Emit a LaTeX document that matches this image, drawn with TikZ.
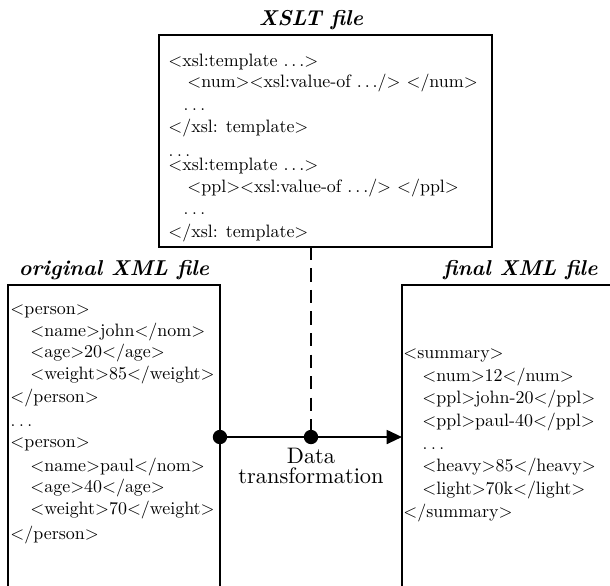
\documentclass[tikz,border=0pt]{standalone}
\usepackage{graphicx}
\usetikzlibrary{arrows.meta}
\newcommand\xlt{$<$}
\newcommand\xgt{$>$}
\newcommand\xell{$\ldots$}
\newcommand\xdots{{\scriptsize$\ldots$}}
\newcommand\cl[1]{\scalebox{0.8}{#1}}
\begin{document}
\begin{tikzpicture}[x=0.4464pt,y=-0.4464pt,
  box/.style={draw,line width=0.9pt,rectangle,inner sep=0,outer sep=0},
  codeline/.style={anchor=base west,font=\normalsize,inner sep=0},
  title/.style={font=\fontsize{9.6}{11.5}\selectfont\bfseries\itshape,inner sep=0},
  flow/.style={line width=0.9pt},
  dot/.style={circle,fill,inner sep=0,minimum size=6.4pt},
  >={Triangle[length=6.8pt,width=6.2pt]}]
\clip (0,0) rectangle (610,585);
% boxes
\node[box,minimum width=148.7pt,minimum height=94.6pt] (xslt) at (325.5,141) {};
\node[box,minimum width=94.6pt,minimum height=158.5pt] (orig) at (114,462.5) {};
\node[box,minimum width=115.2pt,minimum height=158.5pt] (final) at (531,462.5) {};
% titles
\node[title,anchor=base] (txslt) at (311,25) {XSLT file};
\node[title,anchor=base] (torig) at (114,275) {original XML file};
\node[title,anchor=base east] (tfinal) at (598,275) {final XML file};
% XSLT content
\node[codeline] (x1) at (168,66) {\cl{\xlt xsl:template \xell\xgt}};
\node[codeline] (x2) at (187,87) {\cl{\xlt num\xgt\xlt xsl:value-of \xell/\xgt\ \xlt/num\xgt}};
\node[codeline] (x3) at (183,110) {\xdots};
\node[codeline] (x4) at (168,132) {\cl{\xlt/xsl: template\xgt}};
\node[codeline] (x5) at (168,156) {\xdots};
\node[codeline] (x6) at (168,170) {\cl{\xlt xsl:template \xell\xgt}};
\node[codeline] (x7) at (187,192) {\cl{\xlt ppl\xgt\xlt xsl:value-of \xell/\xgt\ \xlt/ppl\xgt}};
\node[codeline] (x8) at (183,214) {\xdots};
\node[codeline] (x9) at (168,237) {\cl{\xlt/xsl: template\xgt}};
% original content
\node[codeline] (o1) at (10,314) {\cl{\xlt person\xgt}};
\node[codeline] (o2) at (30,336) {\cl{\xlt name\xgt john\xlt/nom\xgt}};
\node[codeline] (o3) at (30,357) {\cl{\xlt age\xgt 20\xlt/age\xgt}};
\node[codeline] (o4) at (30,379) {\cl{\xlt weight\xgt 85\xlt/weight\xgt}};
\node[codeline] (o5) at (10,402) {\cl{\xlt/person\xgt}};
\node[codeline] (o6) at (10,426) {\xdots};
\node[codeline] (o7) at (10,447) {\cl{\xlt person\xgt}};
\node[codeline] (o8) at (30,471) {\cl{\xlt name\xgt paul\xlt/nom\xgt}};
\node[codeline] (o9) at (30,492) {\cl{\xlt age\xgt 40\xlt/age\xgt}};
\node[codeline] (o10) at (30,514) {\cl{\xlt weight\xgt 70\xlt/weight\xgt}};
\node[codeline] (o11) at (10,539) {\cl{\xlt/person\xgt}};
% final content
\node[codeline] (f1) at (403,358) {\cl{\xlt summary\xgt}};
\node[codeline] (f2) at (422,381) {\cl{\xlt num\xgt 12\xlt/num\xgt}};
\node[codeline] (f3) at (422,403) {\cl{\xlt ppl\xgt john-20\xlt/ppl\xgt}};
\node[codeline] (f4) at (422,426) {\cl{\xlt ppl\xgt paul-40\xlt/ppl\xgt}};
\node[codeline] (f5) at (422,449) {\xdots};
\node[codeline] (f6) at (422,471) {\cl{\xlt heavy\xgt 85\xlt/heavy\xgt}};
\node[codeline] (f7) at (422,494) {\cl{\xlt light\xgt 70k\xlt/light\xgt}};
\node[codeline] (f8) at (403,517) {\cl{\xlt/summary\xgt}};
% connectors
\coordinate (mid) at (311,437);
\draw[flow,->] (orig.east |- mid) -- (final.west |- mid);
\draw[flow,dash pattern=on 6pt off 3.6pt] (xslt.south -| mid) -- (mid);
\node[dot] (d1) at (orig.east |- mid) {};
\node[dot] (d2) at (mid) {};
\node[anchor=base,inner sep=0] (dt1) at (311,463) {Data};
\node[anchor=base,inner sep=0] (dt2) at (311,483) {transformation};
\end{tikzpicture}
\end{document}
